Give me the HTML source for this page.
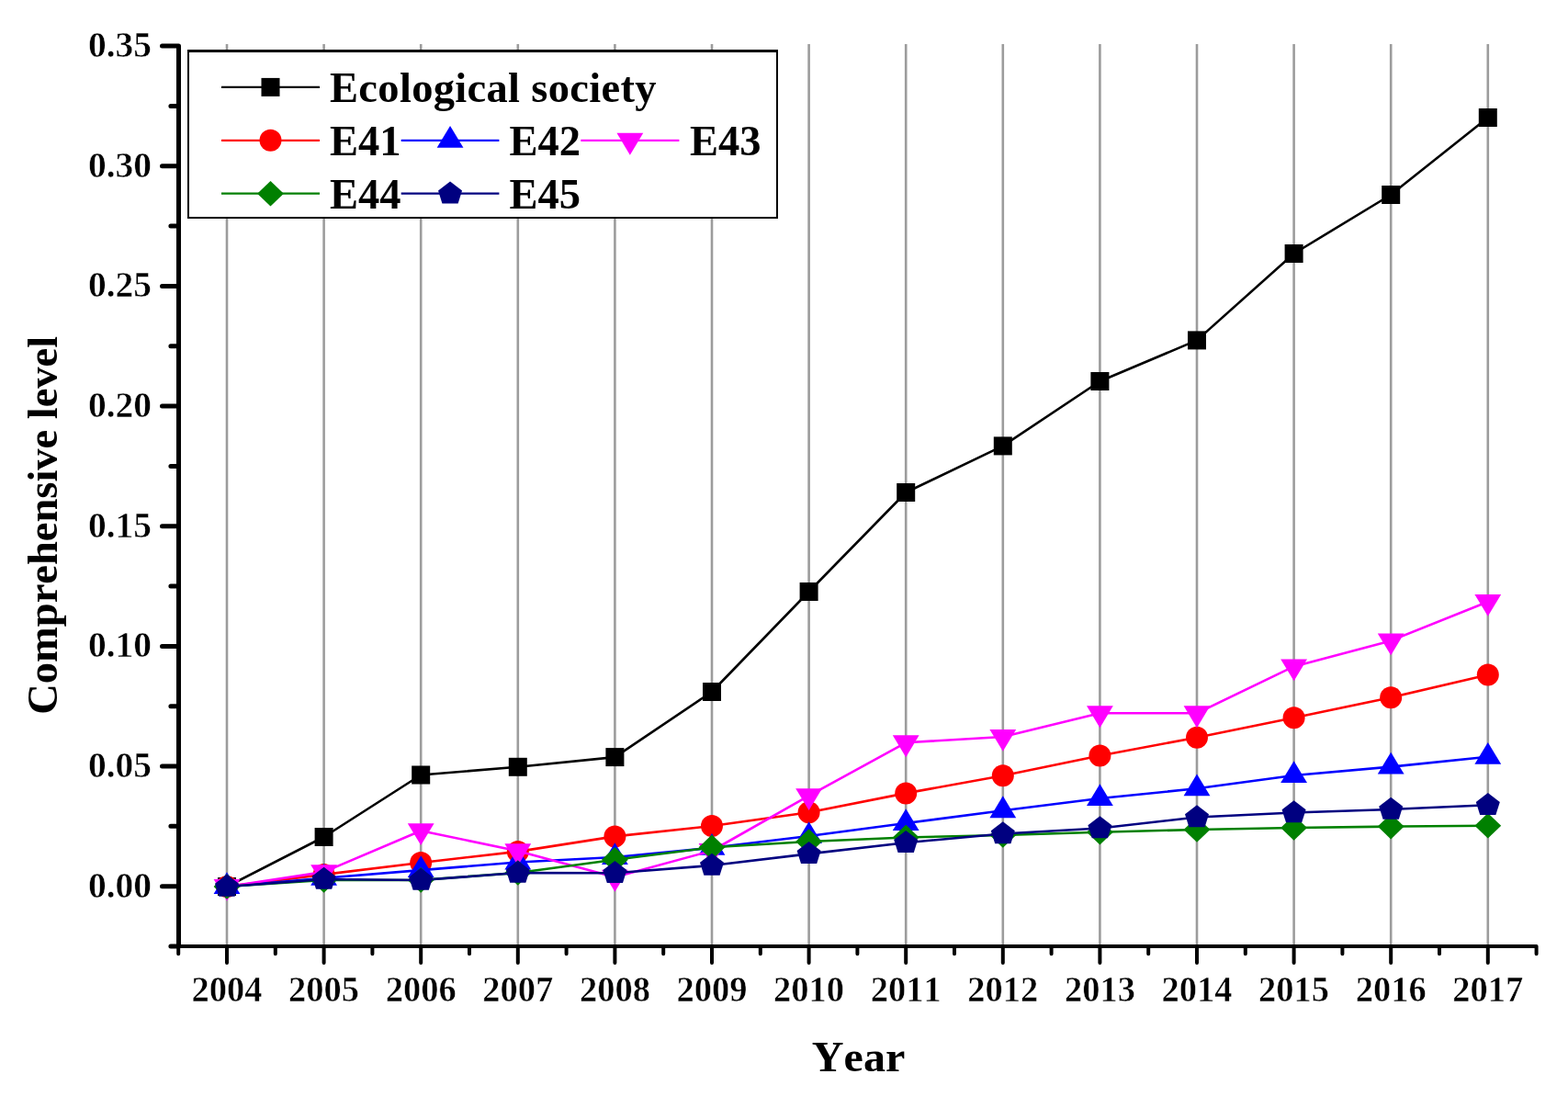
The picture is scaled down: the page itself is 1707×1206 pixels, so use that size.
<!DOCTYPE html><html><head><meta charset="utf-8"><title>Comprehensive level</title><style>html,body{margin:0;padding:0;background:#fff;}svg{display:block;}text{font-family:"Liberation Serif","Times New Roman",serif;font-weight:bold;fill:#000;font-kerning:none;}text.t{stroke:#fff;stroke-width:0.5px;}</style></head><body>
<svg width="1707" height="1206" viewBox="0 0 1707 1206">
<rect width="1707" height="1206" fill="#fff"/>
<path d="M247 48V1028M352.6 48V1028M458.2 48V1028M563.8 48V1028M669.4 48V1028M775 48V1028M880.6 48V1028M986.2 48V1028M1091.8 48V1028M1197.4 48V1028M1303 48V1028M1408.6 48V1028M1514.2 48V1028M1619.8 48V1028" stroke="#9c9c9c" stroke-width="2.6" fill="none"/>
<polyline points="247,965 352.6,911 458.2,843.5 563.8,834.8 669.4,824.1 775,753 880.6,644 986.2,536 1091.8,485.4 1197.4,415 1303,370.4 1408.6,276 1514.2,212 1619.8,128" fill="none" stroke="#000000" stroke-width="2.6" stroke-linejoin="round"/>
<rect x="237" y="955" width="20" height="20" fill="#000000"/><rect x="342.6" y="901" width="20" height="20" fill="#000000"/><rect x="448.2" y="833.5" width="20" height="20" fill="#000000"/><rect x="553.8" y="824.8" width="20" height="20" fill="#000000"/><rect x="659.4" y="814.1" width="20" height="20" fill="#000000"/><rect x="765" y="743" width="20" height="20" fill="#000000"/><rect x="870.6" y="634" width="20" height="20" fill="#000000"/><rect x="976.2" y="526" width="20" height="20" fill="#000000"/><rect x="1081.8" y="475.4" width="20" height="20" fill="#000000"/><rect x="1187.4" y="405" width="20" height="20" fill="#000000"/><rect x="1293" y="360.4" width="20" height="20" fill="#000000"/><rect x="1398.6" y="266" width="20" height="20" fill="#000000"/><rect x="1504.2" y="202" width="20" height="20" fill="#000000"/><rect x="1609.8" y="118" width="20" height="20" fill="#000000"/>
<polyline points="247,965 352.6,951.9 458.2,939 563.8,926.9 669.4,910.4 775,899 880.6,884.2 986.2,863.4 1091.8,844.3 1197.4,822.4 1303,802.7 1408.6,781.2 1514.2,759.2 1619.8,734.4" fill="none" stroke="#FF0000" stroke-width="2.6" stroke-linejoin="round"/>
<circle cx="247" cy="965" r="12" fill="#FF0000"/><circle cx="352.6" cy="951.9" r="12" fill="#FF0000"/><circle cx="458.2" cy="939" r="12" fill="#FF0000"/><circle cx="563.8" cy="926.9" r="12" fill="#FF0000"/><circle cx="669.4" cy="910.4" r="12" fill="#FF0000"/><circle cx="775" cy="899" r="12" fill="#FF0000"/><circle cx="880.6" cy="884.2" r="12" fill="#FF0000"/><circle cx="986.2" cy="863.4" r="12" fill="#FF0000"/><circle cx="1091.8" cy="844.3" r="12" fill="#FF0000"/><circle cx="1197.4" cy="822.4" r="12" fill="#FF0000"/><circle cx="1303" cy="802.7" r="12" fill="#FF0000"/><circle cx="1408.6" cy="781.2" r="12" fill="#FF0000"/><circle cx="1514.2" cy="759.2" r="12" fill="#FF0000"/><circle cx="1619.8" cy="734.4" r="12" fill="#FF0000"/>
<polyline points="247,965 352.6,955.7 458.2,947.1 563.8,938.5 669.4,933 775,922.8 880.6,910 986.2,896 1091.8,882.2 1197.4,869 1303,858.3 1408.6,844 1514.2,834.6 1619.8,823.8" fill="none" stroke="#0000FF" stroke-width="2.6" stroke-linejoin="round"/>
<polygon points="247,949.13 261.4,972.93 232.6,972.93" fill="#0000FF"/><polygon points="352.6,939.83 367,963.63 338.2,963.63" fill="#0000FF"/><polygon points="458.2,931.23 472.6,955.03 443.8,955.03" fill="#0000FF"/><polygon points="563.8,922.63 578.2,946.43 549.4,946.43" fill="#0000FF"/><polygon points="669.4,917.13 683.8,940.93 655,940.93" fill="#0000FF"/><polygon points="775,906.93 789.4,930.73 760.6,930.73" fill="#0000FF"/><polygon points="880.6,894.13 895,917.93 866.2,917.93" fill="#0000FF"/><polygon points="986.2,880.13 1000.6,903.93 971.8,903.93" fill="#0000FF"/><polygon points="1091.8,866.33 1106.2,890.13 1077.4,890.13" fill="#0000FF"/><polygon points="1197.4,853.13 1211.8,876.93 1183,876.93" fill="#0000FF"/><polygon points="1303,842.43 1317.4,866.23 1288.6,866.23" fill="#0000FF"/><polygon points="1408.6,828.13 1423,851.93 1394.2,851.93" fill="#0000FF"/><polygon points="1514.2,818.73 1528.6,842.53 1499.8,842.53" fill="#0000FF"/><polygon points="1619.8,807.93 1634.2,831.73 1605.4,831.73" fill="#0000FF"/>
<polyline points="247,965 352.6,949.1 458.2,904.2 563.8,926.3 669.4,954.8 775,926 880.6,866.2 986.2,808.3 1091.8,802 1197.4,776.3 1303,776.3 1408.6,725.4 1514.2,697.4 1619.8,655" fill="none" stroke="#FF00FF" stroke-width="2.6" stroke-linejoin="round"/>
<polygon points="247,980.87 261.4,957.07 232.6,957.07" fill="#FF00FF"/><polygon points="352.6,964.97 367,941.17 338.2,941.17" fill="#FF00FF"/><polygon points="458.2,920.07 472.6,896.27 443.8,896.27" fill="#FF00FF"/><polygon points="563.8,942.17 578.2,918.37 549.4,918.37" fill="#FF00FF"/><polygon points="669.4,970.67 683.8,946.87 655,946.87" fill="#FF00FF"/><polygon points="775,941.87 789.4,918.07 760.6,918.07" fill="#FF00FF"/><polygon points="880.6,882.07 895,858.27 866.2,858.27" fill="#FF00FF"/><polygon points="986.2,824.17 1000.6,800.37 971.8,800.37" fill="#FF00FF"/><polygon points="1091.8,817.87 1106.2,794.07 1077.4,794.07" fill="#FF00FF"/><polygon points="1197.4,792.17 1211.8,768.37 1183,768.37" fill="#FF00FF"/><polygon points="1303,792.17 1317.4,768.37 1288.6,768.37" fill="#FF00FF"/><polygon points="1408.6,741.27 1423,717.47 1394.2,717.47" fill="#FF00FF"/><polygon points="1514.2,713.27 1528.6,689.47 1499.8,689.47" fill="#FF00FF"/><polygon points="1619.8,670.87 1634.2,647.07 1605.4,647.07" fill="#FF00FF"/>
<polyline points="247,965 352.6,958 458.2,957.9 563.8,950 669.4,935.7 775,922.3 880.6,916 986.2,911.5 1091.8,909 1197.4,905.7 1303,903 1408.6,901 1514.2,899.6 1619.8,898.7" fill="none" stroke="#008000" stroke-width="2.6" stroke-linejoin="round"/>
<polygon points="247,951.2 261.4,965 247,978.8 232.6,965" fill="#008000"/><polygon points="352.6,944.2 367,958 352.6,971.8 338.2,958" fill="#008000"/><polygon points="458.2,944.1 472.6,957.9 458.2,971.7 443.8,957.9" fill="#008000"/><polygon points="563.8,936.2 578.2,950 563.8,963.8 549.4,950" fill="#008000"/><polygon points="669.4,921.9 683.8,935.7 669.4,949.5 655,935.7" fill="#008000"/><polygon points="775,908.5 789.4,922.3 775,936.1 760.6,922.3" fill="#008000"/><polygon points="880.6,902.2 895,916 880.6,929.8 866.2,916" fill="#008000"/><polygon points="986.2,897.7 1000.6,911.5 986.2,925.3 971.8,911.5" fill="#008000"/><polygon points="1091.8,895.2 1106.2,909 1091.8,922.8 1077.4,909" fill="#008000"/><polygon points="1197.4,891.9 1211.8,905.7 1197.4,919.5 1183,905.7" fill="#008000"/><polygon points="1303,889.2 1317.4,903 1303,916.8 1288.6,903" fill="#008000"/><polygon points="1408.6,887.2 1423,901 1408.6,914.8 1394.2,901" fill="#008000"/><polygon points="1514.2,885.8 1528.6,899.6 1514.2,913.4 1499.8,899.6" fill="#008000"/><polygon points="1619.8,884.9 1634.2,898.7 1619.8,912.5 1605.4,898.7" fill="#008000"/>
<polyline points="247,965 352.6,957 458.2,958 563.8,950 669.4,950.2 775,942 880.6,929.4 986.2,917.2 1091.8,907.5 1197.4,901.5 1303,889.5 1408.6,884.5 1514.2,881 1619.8,876.3" fill="none" stroke="#000080" stroke-width="2.6" stroke-linejoin="round"/>
<polygon points="247,951.7 260,961.7 255.6,975.7 238.4,975.7 234,961.7" fill="#000080"/><polygon points="352.6,943.7 365.6,953.7 361.2,967.7 344,967.7 339.6,953.7" fill="#000080"/><polygon points="458.2,944.7 471.2,954.7 466.8,968.7 449.6,968.7 445.2,954.7" fill="#000080"/><polygon points="563.8,936.7 576.8,946.7 572.4,960.7 555.2,960.7 550.8,946.7" fill="#000080"/><polygon points="669.4,936.9 682.4,946.9 678,960.9 660.8,960.9 656.4,946.9" fill="#000080"/><polygon points="775,928.7 788,938.7 783.6,952.7 766.4,952.7 762,938.7" fill="#000080"/><polygon points="880.6,916.1 893.6,926.1 889.2,940.1 872,940.1 867.6,926.1" fill="#000080"/><polygon points="986.2,903.9 999.2,913.9 994.8,927.9 977.6,927.9 973.2,913.9" fill="#000080"/><polygon points="1091.8,894.2 1104.8,904.2 1100.4,918.2 1083.2,918.2 1078.8,904.2" fill="#000080"/><polygon points="1197.4,888.2 1210.4,898.2 1206,912.2 1188.8,912.2 1184.4,898.2" fill="#000080"/><polygon points="1303,876.2 1316,886.2 1311.6,900.2 1294.4,900.2 1290,886.2" fill="#000080"/><polygon points="1408.6,871.2 1421.6,881.2 1417.2,895.2 1400,895.2 1395.6,881.2" fill="#000080"/><polygon points="1514.2,867.7 1527.2,877.7 1522.8,891.7 1505.6,891.7 1501.2,877.7" fill="#000080"/><polygon points="1619.8,863 1632.8,873 1628.4,887 1611.2,887 1606.8,873" fill="#000080"/>
<path d="M194.5 1030H1672.6M194.2 1030V1038.3M247 1030V1048M299.8 1030V1038.3M352.6 1030V1048M405.4 1030V1038.3M458.2 1030V1048M511 1030V1038.3M563.8 1030V1048M616.6 1030V1038.3M669.4 1030V1048M722.2 1030V1038.3M775 1030V1048M827.8 1030V1038.3M880.6 1030V1048M933.4 1030V1038.3M986.2 1030V1048M1039 1030V1038.3M1091.8 1030V1048M1144.6 1030V1038.3M1197.4 1030V1048M1250.2 1030V1038.3M1303 1030V1048M1355.8 1030V1038.3M1408.6 1030V1048M1461.4 1030V1038.3M1514.2 1030V1048M1567 1030V1038.3M1619.8 1030V1048M1672.6 1030V1038.3" stroke="#000" stroke-width="4" stroke-linecap="round" fill="none"/>
<path d="M194.5 50.5V1030M194.5 1030H185.9M194.5 964.67H176.5M194.5 899.35H185.9M194.5 834.02H176.5M194.5 768.7H185.9M194.5 703.38H176.5M194.5 638.05H185.9M194.5 572.72H176.5M194.5 507.4H185.9M194.5 442.07H176.5M194.5 376.75H185.9M194.5 311.42H176.5M194.5 246.1H185.9M194.5 180.77H176.5M194.5 115.45H185.9M194.5 50.12H176.5" stroke="#000" stroke-width="5" stroke-linecap="round" fill="none"/>
<text transform="translate(165.1 976.6) scale(1.027 1.05)" class="t" font-size="38.5" text-anchor="end">0.00</text>
<text transform="translate(165.1 845.95) scale(1.027 1.05)" class="t" font-size="38.5" text-anchor="end">0.05</text>
<text transform="translate(165.1 715.3) scale(1.027 1.05)" class="t" font-size="38.5" text-anchor="end">0.10</text>
<text transform="translate(165.1 584.65) scale(1.027 1.05)" class="t" font-size="38.5" text-anchor="end">0.15</text>
<text transform="translate(165.1 454) scale(1.027 1.05)" class="t" font-size="38.5" text-anchor="end">0.20</text>
<text transform="translate(165.1 323.35) scale(1.027 1.05)" class="t" font-size="38.5" text-anchor="end">0.25</text>
<text transform="translate(165.1 192.7) scale(1.027 1.05)" class="t" font-size="38.5" text-anchor="end">0.30</text>
<text transform="translate(165.1 62.05) scale(1.027 1.05)" class="t" font-size="38.5" text-anchor="end">0.35</text>
<text transform="translate(247 1090) scale(1 1.05)" class="t" font-size="38.5" text-anchor="middle">2004</text>
<text transform="translate(352.6 1090) scale(1 1.05)" class="t" font-size="38.5" text-anchor="middle">2005</text>
<text transform="translate(458.2 1090) scale(1 1.05)" class="t" font-size="38.5" text-anchor="middle">2006</text>
<text transform="translate(563.8 1090) scale(1 1.05)" class="t" font-size="38.5" text-anchor="middle">2007</text>
<text transform="translate(669.4 1090) scale(1 1.05)" class="t" font-size="38.5" text-anchor="middle">2008</text>
<text transform="translate(775 1090) scale(1 1.05)" class="t" font-size="38.5" text-anchor="middle">2009</text>
<text transform="translate(880.6 1090) scale(1 1.05)" class="t" font-size="38.5" text-anchor="middle">2010</text>
<text transform="translate(986.2 1090) scale(1 1.05)" class="t" font-size="38.5" text-anchor="middle">2011</text>
<text transform="translate(1091.8 1090) scale(1 1.05)" class="t" font-size="38.5" text-anchor="middle">2012</text>
<text transform="translate(1197.4 1090) scale(1 1.05)" class="t" font-size="38.5" text-anchor="middle">2013</text>
<text transform="translate(1303 1090) scale(1 1.05)" class="t" font-size="38.5" text-anchor="middle">2014</text>
<text transform="translate(1408.6 1090) scale(1 1.05)" class="t" font-size="38.5" text-anchor="middle">2015</text>
<text transform="translate(1514.2 1090) scale(1 1.05)" class="t" font-size="38.5" text-anchor="middle">2016</text>
<text transform="translate(1619.8 1090) scale(1 1.05)" class="t" font-size="38.5" text-anchor="middle">2017</text>
<text transform="translate(934.6 1166) scale(1.035 1)" font-size="46.5" text-anchor="middle">Year</text>
<text transform="translate(62 571.8) rotate(-90)" x="0" y="0" font-size="46.5" text-anchor="middle">Comprehensive level</text>
<rect x="204" y="54" width="643" height="184" fill="#fff"/>
<path d="M204 54H847V57H204ZM204 57H206V238H204ZM845 57H847V238H845ZM206 236H845V238H206Z" fill="#000"/>
<path d="M241 94.9H348" stroke="#000000" stroke-width="2.2"/><rect x="284.5" y="84.9" width="20" height="20" fill="#000000"/><text x="359" y="111.2" font-size="46.5" letter-spacing="0.33">Ecological society</text>
<path d="M241 152.8H348" stroke="#FF0000" stroke-width="2.2"/><circle cx="294.5" cy="152.8" r="12" fill="#FF0000"/><text x="359" y="169.1" font-size="46.5">E41</text>
<path d="M436.7 152.8H543.4" stroke="#0000FF" stroke-width="2.2"/><polygon points="490.05,136.93 504.45,160.73 475.65,160.73" fill="#0000FF"/><text x="554.5" y="169.1" font-size="46.5">E42</text>
<path d="M632.3 152.8H739.4" stroke="#FF00FF" stroke-width="2.2"/><polygon points="685.85,168.67 700.25,144.87 671.45,144.87" fill="#FF00FF"/><text x="751" y="169.1" font-size="46.5">E43</text>
<path d="M241 210.7H348" stroke="#008000" stroke-width="2.2"/><polygon points="294.5,196.9 308.9,210.7 294.5,224.5 280.1,210.7" fill="#008000"/><text x="359" y="227" font-size="46.5">E44</text>
<path d="M436.7 210.7H543.4" stroke="#000080" stroke-width="2.2"/><polygon points="490.05,197.4 503.05,207.4 498.65,221.4 481.45,221.4 477.05,207.4" fill="#000080"/><text x="554.5" y="227" font-size="46.5">E45</text>
</svg></body></html>
